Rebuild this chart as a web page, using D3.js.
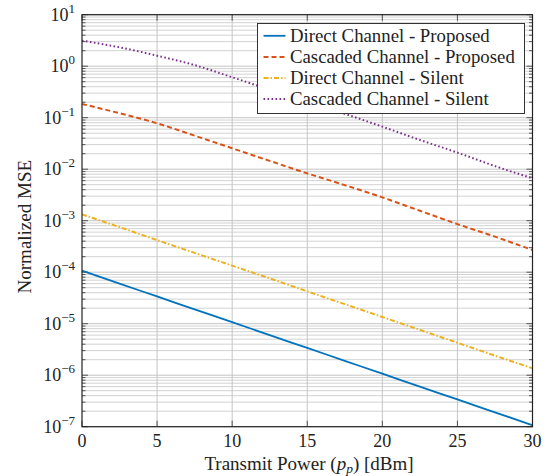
<!DOCTYPE html>
<html>
<head>
<meta charset="utf-8">
<script src="https://cdn.jsdelivr.net/npm/d3@7"></script>
<style>
  html, body { margin: 0; padding: 0; background: #fff; }
  svg { display: block; }
</style>
</head>
<body>
<svg id="chart" width="548" height="476"></svg>
<script>
// Transmit power grid [dBm]
const power = [0, 2.5, 5, 7.5, 10, 12.5, 15, 17.5, 20, 22.5, 25, 27.5, 30];

// Normalized MSE per estimator
const directProposed = [1.07e-4, 6.0e-5, 3.38e-5, 1.9e-5, 1.07e-5, 6.0e-6, 3.38e-6, 1.9e-6, 1.07e-6, 6.0e-7, 3.38e-7, 1.9e-7, 1.07e-7];
const cascadedProposed = [0.185, 0.122, 0.078, 0.0448, 0.0255, 0.0145, 0.0083, 0.0049, 0.00284, 0.00156, 0.00086, 0.00049, 0.00027];
const directSilent = [1.33e-3, 7.5e-4, 4.2e-4, 2.37e-4, 1.34e-4, 7.6e-5, 4.25e-5, 2.4e-5, 1.35e-5, 7.6e-6, 4.27e-6, 2.4e-6, 1.36e-6];
const cascadedSilent = [3.13, 2.33, 1.6, 1.05, 0.61, 0.35, 0.205, 0.119, 0.067, 0.037, 0.021, 0.0115, 0.00665];

const seriesNames = ["Direct Channel - Proposed", "Cascaded Channel - Proposed", "Direct Channel - Silent", "Cascaded Channel - Silent"];
const xTicks = [0, 5, 10, 15, 20, 25, 30];
const yDecades = [-7, -6, -5, -4, -3, -2, -1, 0, 1];

const styles = [
  { color: "#0072BD", dash: null, width: 1.8 },
  { color: "#D95319", dash: "5,3", width: 2 },
  { color: "#EDB120", dash: "5,2,1.5,2", width: 2 },
  { color: "#7E2F8E", dash: "1.6,2.4", width: 2 }
];
const seriesData = [directProposed, cascadedProposed, directSilent, cascadedSilent];

const FONT = "'Liberation Serif', 'Times New Roman', Times, 'DejaVu Serif', serif";

const svg = d3.select("#chart")
  .attr("font-family", FONT)
  .style("font-family", FONT);
const plot = { left: 82, right: 532.5, top: 14.7, bottom: 426.7 };

const x = d3.scaleLinear().domain([0, 30]).range([plot.left, plot.right]);
const y = d3.scaleLog().domain([1e-7, 1e1]).range([plot.bottom, plot.top]);

// minor grid values 2..9 within each decade
const minorVals = [];
yDecades.slice(0, -1).forEach(e => {
  for (let m = 2; m <= 9; m++) minorVals.push(m * Math.pow(10, e));
});
const majorVals = yDecades.map(e => Math.pow(10, e));

const grid = svg.append("g");
grid.selectAll("line.minor").data(minorVals).join("line")
  .attr("x1", plot.left).attr("x2", plot.right)
  .attr("y1", d => y(d)).attr("y2", d => y(d))
  .attr("stroke", "#d2d2d2").attr("stroke-width", 1);
grid.selectAll("line.major").data(majorVals).join("line")
  .attr("x1", plot.left).attr("x2", plot.right)
  .attr("y1", d => y(d)).attr("y2", d => y(d))
  .attr("stroke", "#c4c4c4").attr("stroke-width", 1);
grid.selectAll("line.vx").data(xTicks.slice(1, -1)).join("line")
  .attr("x1", d => x(d)).attr("x2", d => x(d))
  .attr("y1", plot.top).attr("y2", plot.bottom)
  .attr("stroke", "#c4c4c4").attr("stroke-width", 1);

// inward tick marks on all four sides
const ticks = svg.append("g").attr("stroke", "#444").attr("stroke-width", 0.9);
[plot.left, plot.right].forEach((sx, i) => {
  const dir = i === 0 ? 1 : -1;
  ticks.selectAll(null).data(minorVals).join("line")
    .attr("x1", sx).attr("x2", sx + dir * 3.5)
    .attr("y1", d => y(d)).attr("y2", d => y(d));
  ticks.selectAll(null).data(majorVals).join("line")
    .attr("x1", sx).attr("x2", sx + dir * 6)
    .attr("y1", d => y(d)).attr("y2", d => y(d));
});
[plot.bottom, plot.top].forEach((sy, i) => {
  const dir = i === 0 ? -1 : 1;
  ticks.selectAll(null).data(xTicks).join("line")
    .attr("x1", d => x(d)).attr("x2", d => x(d))
    .attr("y1", sy).attr("y2", sy + dir * 6);
});

// data curves
const line = d3.line().x((d, i) => x(power[i])).y(d => y(d)).curve(d3.curveMonotoneX);
svg.append("g").selectAll("path").data(seriesData).join("path")
  .attr("d", d => line(d))
  .attr("fill", "none")
  .attr("stroke", (d, i) => styles[i].color)
  .attr("stroke-width", (d, i) => styles[i].width)
  .attr("stroke-dasharray", (d, i) => styles[i].dash);

// frame
svg.append("rect")
  .attr("x", plot.left).attr("y", plot.top)
  .attr("width", plot.right - plot.left).attr("height", plot.bottom - plot.top)
  .attr("fill", "none").attr("stroke", "#222").attr("stroke-width", 1.2);

// x tick labels
svg.append("g").selectAll("text").data(xTicks).join("text")
  .attr("x", d => x(d)).attr("y", 446.5)
  .attr("text-anchor", "middle").attr("font-size", 18).attr("fill", "#222")
  .text(d => d);

// y tick labels as powers of ten
const yl = svg.append("g").selectAll("text").data(yDecades).join("text")
  .attr("x", 75).attr("y", d => y(Math.pow(10, d)) + 6)
  .attr("text-anchor", "end").attr("font-size", 18).attr("fill", "#222");
yl.append("tspan").text("10");
yl.append("tspan").attr("dy", -8).attr("font-size", 13)
  .text(d => (d < 0 ? "\u2212" + (-d) : String(d)));

// axis titles
const xl = svg.append("text").attr("x", 309).attr("y", 469.5)
  .attr("text-anchor", "middle").attr("font-size", 19).attr("fill", "#222");
xl.append("tspan").text("Transmit Power (");
xl.append("tspan").attr("font-style", "italic").text("p");
xl.append("tspan").attr("font-style", "italic").attr("font-size", 13.5).attr("dy", 3.5).text("p");
xl.append("tspan").attr("dy", -3.5).text(") [dBm]");

svg.append("text")
  .attr("transform", "translate(31, 226.7) rotate(-90)")
  .attr("text-anchor", "middle").attr("font-size", 19).attr("fill", "#222")
  .text("Normalized MSE");

// legend
const lg = svg.append("g").attr("transform", "translate(257.5, 23.5)");
lg.append("rect").attr("width", 267).attr("height", 90)
  .attr("fill", "#fff").attr("stroke", "#333").attr("stroke-width", 1);
const rows = lg.selectAll("g.row").data(seriesNames).join("g")
  .attr("transform", (d, i) => `translate(0, ${12.3 + i * 21.1})`);
rows.append("line")
  .attr("x1", 6).attr("x2", 28).attr("y1", 0).attr("y2", 0)
  .attr("stroke", (d, i) => styles[i].color)
  .attr("stroke-width", (d, i) => styles[i].width)
  .attr("stroke-dasharray", (d, i) => styles[i].dash);
rows.append("text").attr("x", 32.5).attr("y", 6)
  .attr("font-size", 18.8).attr("fill", "#222").text(d => d);
</script>
</body>
</html>
